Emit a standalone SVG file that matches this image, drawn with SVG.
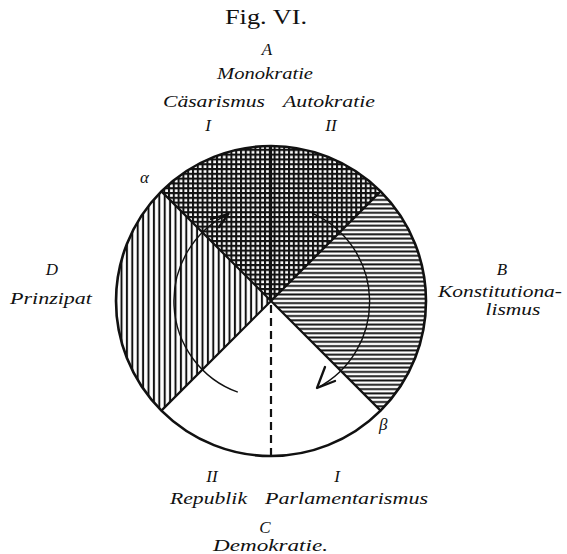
<svg xmlns="http://www.w3.org/2000/svg" width="567" height="554" viewBox="0 0 567 554">
<style>
text{font-family:"Liberation Serif","Times New Roman",serif;fill:#111;}
.it{font-style:italic;font-size:17px;}
.fig{font-size:20px;}
.outline{fill:none;stroke:#111;stroke-width:2.6;}
.rad{stroke:#111;stroke-width:2.2;fill:none;}
.arc{fill:none;stroke:#111;stroke-width:1.4;}
.head{fill:none;stroke:#111;stroke-width:2.3;stroke-linecap:round;stroke-linejoin:round;}
</style>
<defs>
<pattern id="grid" patternUnits="userSpaceOnUse" width="4.8" height="4.8">
<rect width="4.8" height="4.8" fill="#fff"/>
<path d="M0,1H4.8M1,0V4.8" stroke="#111" stroke-width="2.1"/>
</pattern>
<pattern id="horiz" patternUnits="userSpaceOnUse" width="10" height="4.3">
<rect width="10" height="4.3" fill="#fff"/>
<path d="M0,2.1H10" stroke="#111" stroke-width="1.9"/>
</pattern>
<pattern id="vert" patternUnits="userSpaceOnUse" width="5.4" height="10">
<rect width="5.4" height="10" fill="#fff"/>
<path d="M2.7,0V10" stroke="#111" stroke-width="2"/>
</pattern>
</defs>
<rect width="567" height="554" fill="#fff"/>

<g id="sector-A">
<path d="M271,301 L161.4,191.4 A155,155 0 0 1 380.6,191.4 Z" fill="url(#grid)"/>
</g>
<g id="sector-B">
<path d="M271,301 L380.6,191.4 A155,155 0 0 1 380.6,410.6 Z" fill="url(#horiz)"/>
</g>
<g id="sector-C">
<path d="M271,301 L380.6,410.6 A155,155 0 0 1 161.4,410.6 Z" fill="#fff"/>
</g>
<g id="sector-D">
<path d="M271,301 L161.4,410.6 A155,155 0 0 1 161.4,191.4 Z" fill="url(#vert)"/>
</g>

<g id="connectors">
<circle class="outline" cx="271" cy="301" r="155"/>
<path class="rad" d="M161.4,191.4 L380.6,410.6 M380.6,191.4 L161.4,410.6"/>
<path class="rad" d="M271,146 V301" stroke-width="2.6"/>
<path class="rad" d="M271,305 V456" stroke-dasharray="8,5"/>
<path class="arc" d="M237.8,392.2 A97,97 0 0 1 228.5,213.8"/>
<path class="head" d="M211,219 L228.5,213.8 L219,227"/>
<path class="arc" d="M312,213.1 A97,97 0 0 1 317,388"/>
<path class="head" d="M325,367 L317,388 L335,381"/>
</g>

<g id="labels">
<text class="fig" x="225" y="24" textLength="82" lengthAdjust="spacingAndGlyphs">Fig. VI.</text>
<text class="it" x="267" y="55" text-anchor="middle">A</text>
<text class="it" x="217" y="79" textLength="96" lengthAdjust="spacingAndGlyphs">Monokratie</text>
<text class="it" x="163" y="107" textLength="102" lengthAdjust="spacingAndGlyphs">Cäsarismus</text>
<text class="it" x="283" y="107" textLength="92" lengthAdjust="spacingAndGlyphs">Autokratie</text>
<text class="it" x="208" y="131" text-anchor="middle">I</text>
<text class="it" x="331" y="131" text-anchor="middle">II</text>
<text class="it" x="140" y="183">α</text>
<text class="it" x="52" y="275" text-anchor="middle">D</text>
<text class="it" x="10" y="304" textLength="82" lengthAdjust="spacingAndGlyphs">Prinzipat</text>
<text class="it" x="502" y="275" text-anchor="middle">B</text>
<text class="it" x="438" y="297" textLength="124" lengthAdjust="spacingAndGlyphs">Konstitutiona-</text>
<text class="it" x="513" y="315" text-anchor="middle" textLength="55" lengthAdjust="spacingAndGlyphs">lismus</text>
<text class="it" x="379" y="430">β</text>
<text class="it" x="212" y="482" text-anchor="middle">II</text>
<text class="it" x="337" y="482" text-anchor="middle">I</text>
<text class="it" x="170" y="504" textLength="77" lengthAdjust="spacingAndGlyphs">Republik</text>
<text class="it" x="265" y="504" textLength="163" lengthAdjust="spacingAndGlyphs">Parlamentarismus</text>
<text class="it" x="265" y="533" text-anchor="middle">C</text>
<text class="it" x="213" y="551" textLength="115" lengthAdjust="spacingAndGlyphs">Demokratie.</text>
</g>
</svg>
